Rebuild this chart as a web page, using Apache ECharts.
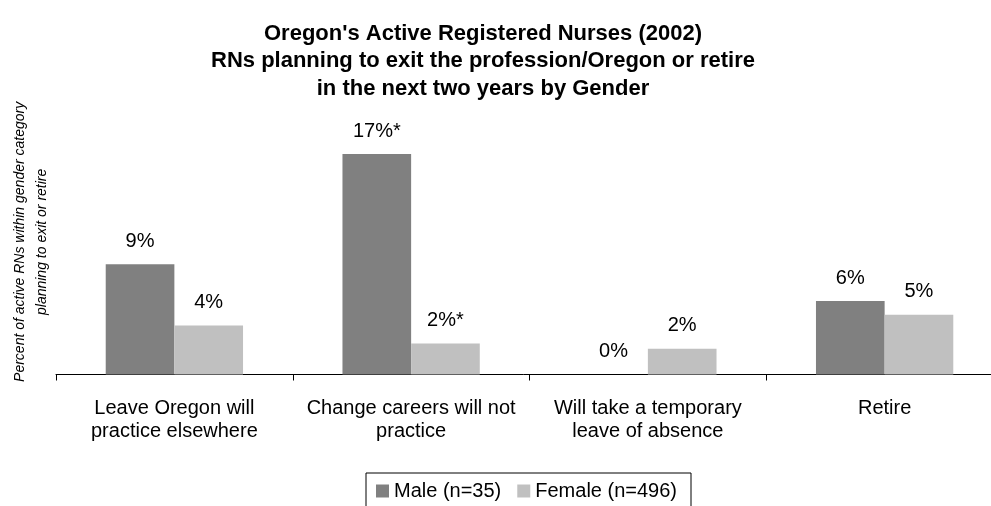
<!DOCTYPE html>
<html>
<head>
<meta charset="utf-8">
<script src="https://cdn.jsdelivr.net/npm/echarts@6/dist/echarts.min.js"></script>
<style>
  html, body { margin: 0; padding: 0; background: #fff; }
  #chart { width: 991px; height: 506px; }
</style>
</head>
<body>
<div id="chart"></div>
<script>
  // categories and values
  const categories = [
    'Leave Oregon will\npractice elsewhere',
    'Change careers will not\npractice',
    'Will take a temporary\nleave of absence',
    'Retire'
  ];
  const maleValues = [8.57, 17.14, 0, 5.71];
  const femaleValues = [3.8, 2.4, 2.0, 4.65];
  const maleLabels = ['9%', '17%*', '0%', '6%'];
  const femaleLabels = ['4%', '2%*', '2%', '5%'];

  const font = '"Liberation Sans", Arial, sans-serif';

  const labelStyle = (texts) => ({
    show: true,
    position: 'top',
    distance: 13,
    fontFamily: font,
    fontSize: 20,
    lineHeight: 20,
    color: '#000',
    formatter: (p) => texts[p.dataIndex]
  });

  const chart = echarts.init(document.getElementById('chart'));
  chart.setOption({
    animation: false,
    textStyle: { fontFamily: font },
    title: {
      text: "Oregon's Active Registered Nurses (2002)\nRNs planning to exit the profession/Oregon or retire\nin the next two years by Gender",
      left: 483,
      top: 20,
      padding: 0,
      textAlign: 'center',
      textStyle: {
        fontFamily: font,
        fontSize: 22,
        fontWeight: 'bold',
        lineHeight: 27.5,
        color: '#000'
      }
    },
    legend: {
      left: 366,
      top: 473,
      padding: [8, 14, 8, 10],
      itemWidth: 13,
      itemHeight: 13,
      itemGap: 16,
      icon: 'rect',
      borderColor: '#000',
      borderWidth: 1,
      borderRadius: 0,
      textStyle: { fontFamily: font, fontSize: 20, lineHeight: 20, color: '#000' },
      data: ['Male (n=35)', 'Female (n=496)']
    },
    grid: {
      left: 56,
      top: 117.2,
      width: 947,
      height: 257.3,
      outerBoundsMode: 'none',
      containLabel: false
    },
    xAxis: {
      type: 'category',
      data: categories,
      axisLine: { show: true, lineStyle: { color: '#000', width: 1 } },
      axisTick: { show: true, alignWithLabel: false, length: 6, lineStyle: { color: '#000' } },
      axisLabel: {
        interval: 0,
        margin: 22,
        fontFamily: font,
        fontSize: 20,
        lineHeight: 23,
        color: '#000'
      }
    },
    yAxis: {
      type: 'value',
      min: 0,
      max: 20,
      axisLine: { show: false },
      axisTick: { show: false },
      axisLabel: { show: false },
      splitLine: { show: false },
      name: 'Percent of active RNs within gender category\nplanning to exit or retire',
      nameLocation: 'middle',
      nameRotate: 90,
      nameGap: 3,
      nameTextStyle: {
        fontFamily: font,
        fontStyle: 'italic',
        fontSize: 14,
        lineHeight: 22,
        color: '#000',
        padding: [0, 0, 0, 8]
      }
    },
    series: [
      {
        name: 'Male (n=35)',
        type: 'bar',
        data: maleValues,
        barGap: '0%',
        barCategoryGap: '42%',
        itemStyle: { color: '#808080' },
        label: labelStyle(maleLabels)
      },
      {
        name: 'Female (n=496)',
        type: 'bar',
        data: femaleValues,
        itemStyle: { color: '#c0c0c0' },
        label: labelStyle(femaleLabels)
      }
    ]
  });
</script>
</body>
</html>
